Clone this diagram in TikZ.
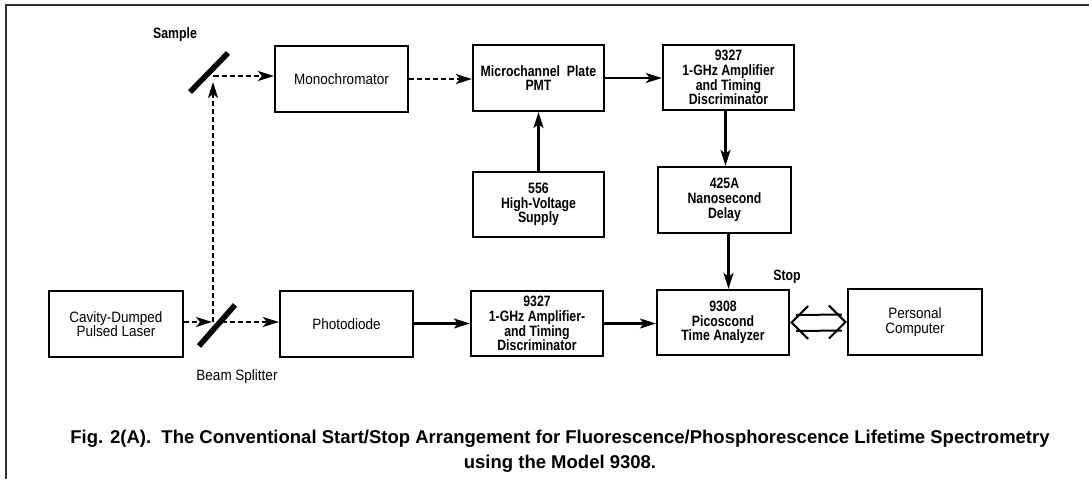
\documentclass[tikz,border=0pt]{standalone}
\usepackage{fontspec}
\setmainfont{Liberation Sans}
\newfontfamily\lab{Liberation Sans}[FakeStretch=0.9]
\newfontfamily\blab{Liberation Sans}[FakeStretch=0.82]
\usetikzlibrary{arrows.meta,calc}
\begin{document}
\begin{tikzpicture}[x=1pt,y=-1pt,
  box/.style={draw, line width=2.2pt, inner sep=0pt, align=center, minimum width=132pt, minimum height=65pt},
  rl/.style={font=\lab\fontsize{15}{14.7}\selectfont},
  bl/.style={font=\blab\bfseries\fontsize{15}{14.7}\selectfont},
  arr/.style={line width=2.3pt, -{Stealth[length=16pt,width=10pt,inset=4pt]}},
  darr/.style={line width=2pt, dash pattern=on 5pt off 3pt, -{Stealth[length=16pt,width=10pt,inset=4pt]}},
  dln/.style={line width=2pt, dash pattern=on 5pt off 3pt},
  mirror/.style={line width=5.5pt},
  dbl/.style={line width=2pt}]
\useasboundingbox (0,0) rectangle (1089,479);
% frame
\draw[line width=2.2pt, black!80] (6,479) -- (6,5) -- (1089,5);
% boxes
\node[box, rl, minimum width=134pt, minimum height=66pt] (laser) at (116,324) {Cavity-Dumped\\Pulsed Laser};
\node[box, rl, minimum width=133pt, minimum height=66pt] (photo) at (346.5,324) {Photodiode};
\node[box, bl] (amp2) at (537,323.5) {9327\\1-GHz Amplifier-\\and Timing\\Discriminator};
\node[box, bl] (tac) at (723,322.5) {9308\\Picoscond\\Time Analyzer};
\node[box, rl, minimum width=134pt, minimum height=66pt] (pc) at (915,322) {Personal\\Computer};
\node[box, rl, minimum width=133pt, minimum height=66pt] (mono) at (341.5,79) {Monochromator};
\node[box, bl, minimum width=131pt, minimum height=66pt] (pmt) at (538.5,78) {Microchannel\ \ Plate\\PMT};
\node[box, bl, minimum width=131pt] (amp1) at (728.5,77.5) {9327\\1-GHz Amplifier\\and Timing\\Discriminator};
\node[box, bl, minimum width=133pt, minimum height=66pt] (delay) at (724.5,200) {425A\\Nanosecond\\Delay};
\node[box, bl, minimum width=131pt] (hv) at (538.5,204.5) {556\\High-Voltage\\Supply};
% labels
\node[bl] (sample) at (175,35) {Sample};
\node[rl] (bslab) at (237,377) {Beam Splitter};
\node[bl] (stop) at (787,277) {Stop};
\node[font=\bfseries\fontsize{18.5}{25}\selectfont, align=center] (cap) at (560,451.5)
  {Fig. 2(A).\ \ The Conventional Start/Stop Arrangement for Fluorescence/Phosphorescence Lifetime Spectrometry\\using the Model 9308.};
% mirrors
\coordinate (bs) at (213,322);
\coordinate (sm) at (213,76);
\draw[mirror] (199,346) -- (235,305);
\draw[mirror] (190,92) -- (228,53);
% optical paths
\draw[darr] (laser.east |- bs) -- ([xshift=-1pt]bs);
\draw[darr] ([xshift=9pt]bs) -- (photo.west |- bs);
\draw[darr] (bs) -- ([yshift=-6pt]sm);
\draw[dln] (sm) -- ([xshift=2pt]sm);
\draw[darr] ([xshift=1pt]sm) -- (mono.west |- sm);
\draw[darr] (mono.east) -- (pmt.west |- mono.east);
% electrical
\draw[arr] (pmt.east) -- (amp1.west |- pmt.east);
\draw[arr] ([xshift=-3pt]amp1.south) -- ([xshift=-3pt]amp1.south |- delay.north);
\draw[arr] ([xshift=4pt]delay.south) -- ([xshift=4pt]delay.south |- tac.north);
\draw[arr] (hv.north) -- (pmt.south);
\draw[arr] (photo.east |- amp2.west) -- (amp2.west);
\draw[arr] (amp2.east) -- (tac.west |- amp2.east);
% double arrow tac <-> pc
\draw[dbl] ($(tac.east)+(6,-7.5)$) -- ($(pc.west)+(-5,-7.5)$);
\draw[dbl] ($(tac.east)+(6,8.5)$) -- ($(pc.west)+(-5,8.5)$);
\draw[dbl] ($(tac.east)+(18,-16.5)$) -- ($(tac.east)+(1.5,0)$) -- ($(tac.east)+(18,16.5)$);
\draw[dbl] ($(pc.west)+(-18,-16.5)$) -- ($(pc.west)+(-1.5,0)$) -- ($(pc.west)+(-18,16.5)$);
\end{tikzpicture}
\end{document}
